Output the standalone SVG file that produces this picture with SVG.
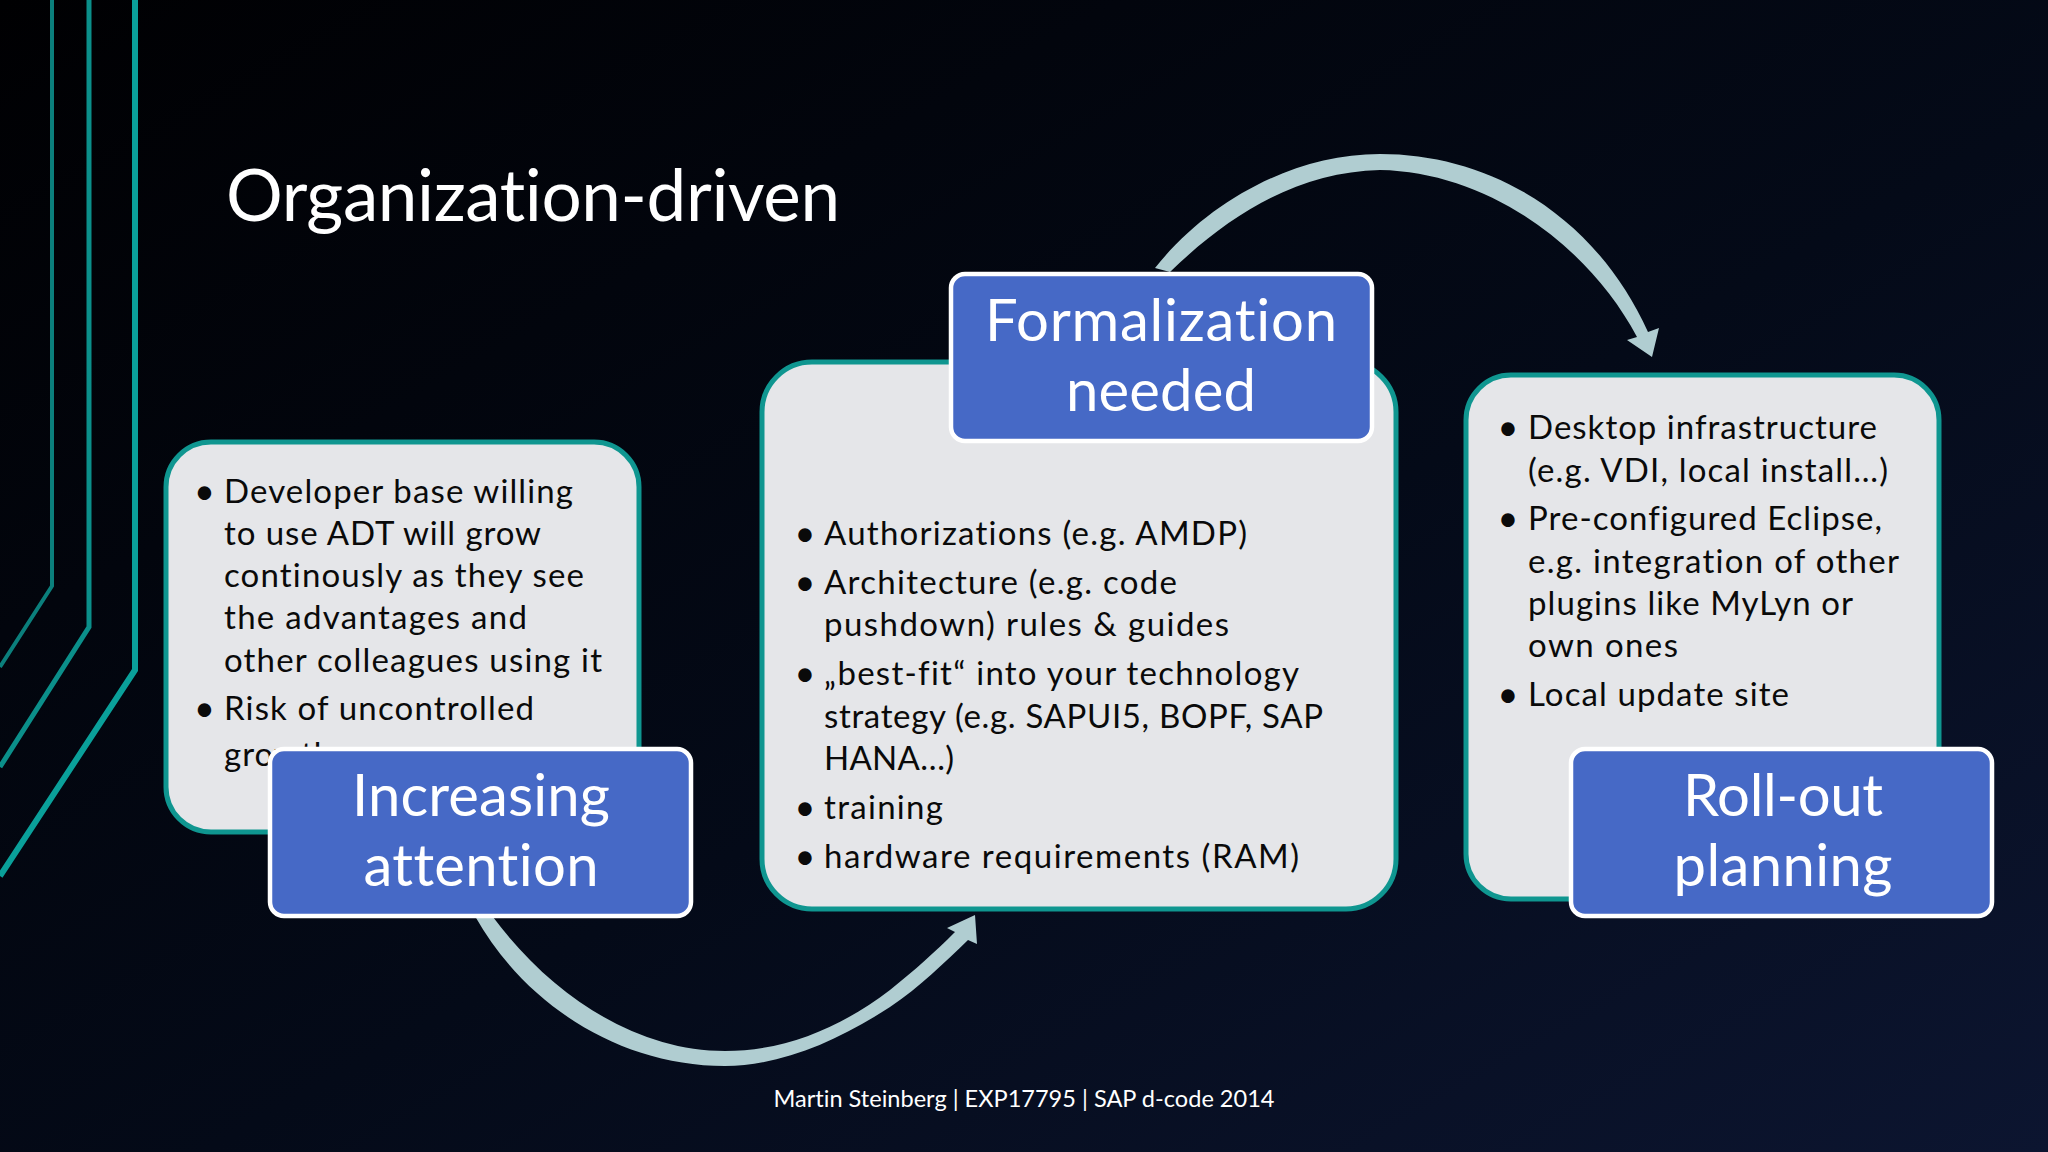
<svg xmlns="http://www.w3.org/2000/svg" width="2048" height="1152" viewBox="0 0 2048 1152">
<defs>
<linearGradient id="bg" x1="0" y1="0" x2="1" y2="1"><stop offset="0" stop-color="#000002"/><stop offset="0.55" stop-color="#040a18"/><stop offset="1" stop-color="#0c1530"/></linearGradient>
</defs>
<style>
.box{fill:#e5e6e9;stroke:#0f9690;stroke-width:5}
.lab{fill:#4669c6;stroke:#fff;stroke-width:4.5}
.deco{fill:none}
.arc{fill:#b0cdd1}
text{font-family:"Lato","Liberation Sans",sans-serif;font-variant-ligatures:none}
.b{font-size:33px;fill:#0a0a0a}
.d{font-size:36px;fill:#0a0a0a;text-anchor:middle}
.t{font-size:58px;fill:#fff;text-anchor:middle}
</style>
<rect width="2048" height="1152" fill="url(#bg)"/>
<g id="decor" class="deco">
<path d="M52 0V586L0 667" stroke="#0b7f7c" stroke-width="4"/>
<path d="M89 0V627L0 767" stroke="#0b8f8a" stroke-width="5"/>
<path d="M135 0V670L0 876" stroke="#0aa09a" stroke-width="6"/>
</g>
<text x="226" y="221" fill="#fff" style="font-size:71px" textLength="614">Organization-driven</text>
<g id="connectors">
<path class="arc" d="M475.500 917C525 1005 620 1066 725 1066C780 1066 838 1041 890 1007C920 987 945 962 968 940L977 944L975 915L947 928L955 932C935 952 915 970 890 990C840 1028 785 1051 725 1051C640 1051 555 1000 493 917Z"/>
<path class="arc" d="M1155 268C1205 205 1290 154 1380 154C1490 154 1595 215 1648 332L1659 328L1652 357L1627 340L1637 337C1590 248 1490 172 1380 170C1300 172 1232 212 1170 272Z"/>
</g>
<g id="node-increasing">
<rect class="box" x="166" y="442" width="473" height="390" rx="45"/>
<text class="d" x="204.500" y="504">•</text>
<text class="b" x="224" y="503" textLength="349">Developer base willing</text>
<text class="b" x="224" y="545" textLength="317">to use ADT will grow</text>
<text class="b" x="224" y="587" textLength="360">continously as they see</text>
<text class="b" x="224" y="629" textLength="303">the advantages and</text>
<text class="b" x="224" y="672" textLength="378">other colleagues using it</text>
<text class="d" x="204.500" y="721">•</text>
<text class="b" x="224" y="720" textLength="310">Risk of uncontrolled</text>
<text class="b" x="224" y="766" style="letter-spacing:1px">growth</text>
<rect class="lab" x="270" y="749" width="421" height="167" rx="14"/>
<text class="t" x="481" y="816" textLength="258">Increasing</text>
<text class="t" x="481" y="886" textLength="235">attention</text>
</g>
<g id="node-formalization">
<rect class="box" x="762" y="362" width="634" height="547" rx="50"/>
<text class="d" x="805" y="546">•</text>
<text class="b" x="824" y="545" textLength="423">Authorizations (e.g. AMDP)</text>
<text class="d" x="805" y="595">•</text>
<text class="b" x="824" y="594" textLength="353">Architecture (e.g. code</text>
<text class="b" x="824" y="636" textLength="405">pushdown) rules &amp; guides</text>
<text class="d" x="805" y="686">•</text>
<text class="b" x="824" y="685" textLength="475">„best-fit“ into your technology</text>
<text class="b" x="824" y="728" textLength="499">strategy (e.g. SAPUI5, BOPF, SAP</text>
<text class="b" x="824" y="770" textLength="130">HANA…)</text>
<text class="d" x="805" y="820">•</text>
<text class="b" x="824" y="819" textLength="119">training</text>
<text class="d" x="805" y="869">•</text>
<text class="b" x="824" y="868" textLength="475">hardware requirements (RAM)</text>
<rect class="lab" x="951" y="274" width="421" height="167" rx="14"/>
<text class="t" x="1161" y="341" textLength="352">Formalization</text>
<text class="t" x="1161" y="411" textLength="190">needed</text>
</g>
<g id="node-rollout">
<rect class="box" x="1466" y="375" width="473" height="524" rx="45"/>
<text class="d" x="1508" y="440">•</text>
<text class="b" x="1528" y="439" textLength="349">Desktop infrastructure</text>
<text class="b" x="1528" y="482" textLength="360">(e.g. VDI, local install…)</text>
<text class="d" x="1508" y="531">•</text>
<text class="b" x="1528" y="530" textLength="354">Pre-configured Eclipse,</text>
<text class="b" x="1528" y="573" textLength="371">e.g. integration of other</text>
<text class="b" x="1528" y="615" textLength="325">plugins like MyLyn or</text>
<text class="b" x="1528" y="657" textLength="150">own ones</text>
<text class="d" x="1508" y="707">•</text>
<text class="b" x="1528" y="706" textLength="261">Local update site</text>
<rect class="lab" x="1571" y="749" width="421" height="167" rx="14"/>
<text class="t" x="1783" y="816" textLength="200">Roll-out</text>
<text class="t" x="1783" y="886" textLength="219">planning</text>
</g>
<text x="1024" y="1107" style="font-size:24px" fill="#fff" text-anchor="middle" textLength="501" lengthAdjust="spacingAndGlyphs">Martin Steinberg | EXP17795 | SAP d-code 2014</text>
</svg>
